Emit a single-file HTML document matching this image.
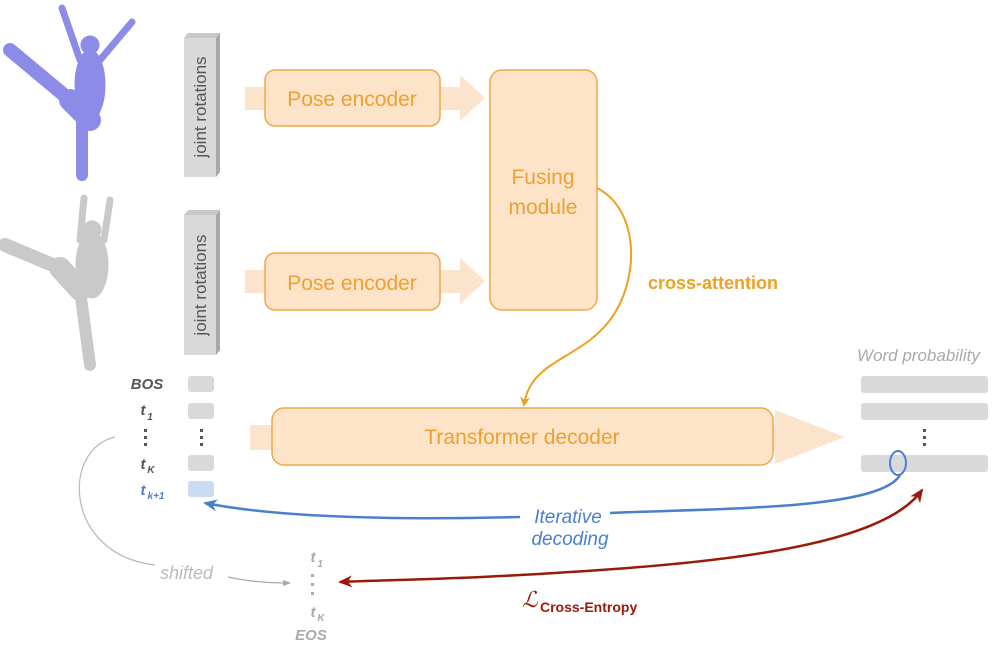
<!DOCTYPE html>
<html><head><meta charset="utf-8"><style>
body{margin:0;background:#fff}
svg{display:block}
text{font-family:"Liberation Sans",sans-serif}
</style></head><body>
<svg width="1000" height="647" viewBox="0 0 1000 647" xmlns="http://www.w3.org/2000/svg">
<defs>
<marker id="ao" markerWidth="10" markerHeight="10" refX="8" refY="5" orient="auto" markerUnits="userSpaceOnUse"><path d="M0,0 L10,5 L0,10 L3,5z" fill="#f0a020"/></marker>
<marker id="ab" markerWidth="14" markerHeight="12" refX="12" refY="6" orient="auto" markerUnits="userSpaceOnUse"><path d="M0,0 L14,6 L0,12 L4,6z" fill="#4a7fd0"/></marker>
<marker id="ar" markerWidth="14" markerHeight="12" refX="12" refY="6" orient="auto-start-reverse" markerUnits="userSpaceOnUse"><path d="M0,0 L14,6 L0,12 L4,6z" fill="#9a1a0a"/></marker>
<marker id="ag" markerWidth="8" markerHeight="8" refX="7" refY="4" orient="auto" markerUnits="userSpaceOnUse"><path d="M0,1 L8,4 L0,7z" fill="#aaa"/></marker>
</defs>
<!-- figures -->
<g fill="#8c8ce8" stroke="#8c8ce8" stroke-linecap="round">
<path d="M10,50 L70,100" stroke-width="14"/>
<path d="M70,100 L90,120" stroke-width="22"/>
<ellipse cx="90" cy="85" rx="15" ry="35"/>
<circle cx="90" cy="45" r="9"/>
<path d="M62,8 L80,60 M132,22 L100,60" stroke-width="7" fill="none"/>
<path d="M82,110 L82,175" stroke-width="12"/>
</g>
<g fill="#c9c9c9" stroke="#c9c9c9" stroke-linecap="round">
<path d="M5,245 L60,268" stroke-width="14"/>
<path d="M60,268 L80,290" stroke-width="22"/>
<ellipse cx="92" cy="265" rx="16" ry="33"/>
<circle cx="92" cy="230" r="9"/>
<path d="M84,198 L80,240 M110,200 L104,240" stroke-width="7" fill="none"/>
<path d="M80,290 L90,365" stroke-width="12"/>
</g>
<!-- joint rotation bars -->
<g>
<polygon points="216,38 220,33 220,172 216,177" fill="#a8a8a8"/>
<polygon points="184,38 188,33 220,33 216,38" fill="#c8c8c8"/>
<rect x="184" y="38" width="32" height="139" fill="#d9d9d9"/>
<text transform="translate(206,107) rotate(-90)" text-anchor="middle" font-size="17" fill="#555">joint rotations</text>
<polygon points="216,215 220,210 220,350 216,355" fill="#a8a8a8"/>
<polygon points="184,215 188,210 220,210 216,215" fill="#c8c8c8"/>
<rect x="184" y="215" width="32" height="140" fill="#d9d9d9"/>
<text transform="translate(206,285) rotate(-90)" text-anchor="middle" font-size="17" fill="#555">joint rotations</text>
</g>
<!-- arrows bands -->
<g fill="#fbe3cc">
<polygon points="245,87 460,87 460,75 485,98 460,121 460,110 245,110"/>
<polygon points="245,270 460,270 460,258 485,281 460,304 460,293 245,293"/>
<polygon points="250,425 775,425 775,410 845,437 775,464 775,450 250,450"/>
</g>
<g fill="#fde3c8" stroke="#f0a84a" stroke-width="1.5">
<rect x="265" y="70" width="175" height="56" rx="10"/>
<rect x="265" y="253" width="175" height="57" rx="10"/>
<rect x="490" y="70" width="107" height="240" rx="12"/>
<rect x="272" y="408" width="501" height="57" rx="12"/>
</g>
<g fill="#f0a030" font-size="21" text-anchor="middle">
<text x="352" y="106">Pose encoder</text>
<text x="352" y="290">Pose encoder</text>
<text x="543" y="184">Fusing</text>
<text x="543" y="214">module</text>
<text x="522" y="444">Transformer decoder</text>
</g>
<text x="648" y="289" font-size="18" font-weight="bold" fill="#f0a020">cross-attention</text>
<path d="M597,188 C640,210 640,280 610,320 C580,360 530,360 524,405" fill="none" stroke="#f0a020" stroke-width="2" marker-end="url(#ao)"/>
<!-- tokens -->
<g font-size="15" font-style="italic" font-weight="bold" fill="#555" text-anchor="middle">
<text x="147" y="389">BOS</text>
<text x="143" y="415">t</text><text x="150" y="420" font-size="10">1</text>
<text x="143" y="469">t</text><text x="151" y="473" font-size="10">K</text>
<text x="143" y="495" fill="#4a7fd0">t</text><text x="156" y="499" font-size="10" fill="#4a7fd0">k+1</text>
</g>
<g fill="#555"><rect x="144" y="429" width="3" height="3"/><rect x="144" y="436" width="3" height="3"/><rect x="144" y="443" width="3" height="3"/>
<rect x="200" y="429" width="3" height="3"/><rect x="200" y="436" width="3" height="3"/><rect x="200" y="443" width="3" height="3"/></g>
<g fill="#d9d9d9"><rect x="188" y="376" width="26" height="16" rx="3"/><rect x="188" y="403" width="26" height="16" rx="3"/><rect x="188" y="455" width="26" height="16" rx="3"/></g>
<rect x="188" y="481" width="26" height="16" rx="3" fill="#c9dcf2"/>
<!-- word probability -->
<text x="857" y="361" font-size="17" font-style="italic" fill="#aaa">Word probability</text>
<g fill="#d9d9d9"><rect x="861" y="376" width="127" height="17" rx="3"/><rect x="861" y="403" width="127" height="17" rx="3"/><rect x="861" y="455" width="127" height="17" rx="3"/></g>
<g fill="#555"><rect x="923" y="429" width="3" height="3"/><rect x="923" y="436" width="3" height="3"/><rect x="923" y="443" width="3" height="3"/></g>
<ellipse cx="898" cy="463" rx="8" ry="12" fill="none" stroke="#4a7fd0" stroke-width="2"/>
<path d="M900,475 C880,510 720,508 610,513 M520,517 C400,520 280,518 205,503" fill="none" stroke="#4a7fd0" stroke-width="2.5" marker-end="url(#ab)"/>
<text x="568" y="523" font-size="19" font-style="italic" fill="#4a7fd0" text-anchor="middle">Iterative</text>
<text x="570" y="545" font-size="19" font-style="italic" fill="#4a7fd0" text-anchor="middle">decoding</text>
<path d="M340,582 C380,580 430,580 520,575 C700,565 880,550 922,490" fill="none" stroke="#9a1a0a" stroke-width="2.5" marker-start="url(#ar)" marker-end="url(#ar)"/>
<text x="522" y="607" font-size="22" font-style="italic" fill="#9a1a0a" font-family="Liberation Serif">ℒ</text>
<text x="540" y="612" font-size="14" font-weight="bold" fill="#9a1a0a">Cross-Entropy</text>
<!-- shifted -->
<path d="M115,437 C60,450 65,555 155,565" fill="none" stroke="#bbb" stroke-width="1.3"/>
<path d="M228,577 C250,582 270,583 290,583" fill="none" stroke="#aaa" stroke-width="1.3" marker-end="url(#ag)"/>
<text x="160" y="579" font-size="18" font-style="italic" fill="#bbb">shifted</text>
<g font-size="15" font-style="italic" font-weight="bold" fill="#aaa" text-anchor="middle">
<text x="313" y="562">t</text><text x="320" y="567" font-size="10">1</text>
<text x="313" y="617">t</text><text x="321" y="621" font-size="10">K</text>
<text x="311" y="640">EOS</text>
</g>
<g fill="#aaa"><rect x="311" y="574" width="3" height="3"/><rect x="311" y="583" width="3" height="3"/><rect x="311" y="592" width="3" height="3"/></g>
</svg>
</body></html>
